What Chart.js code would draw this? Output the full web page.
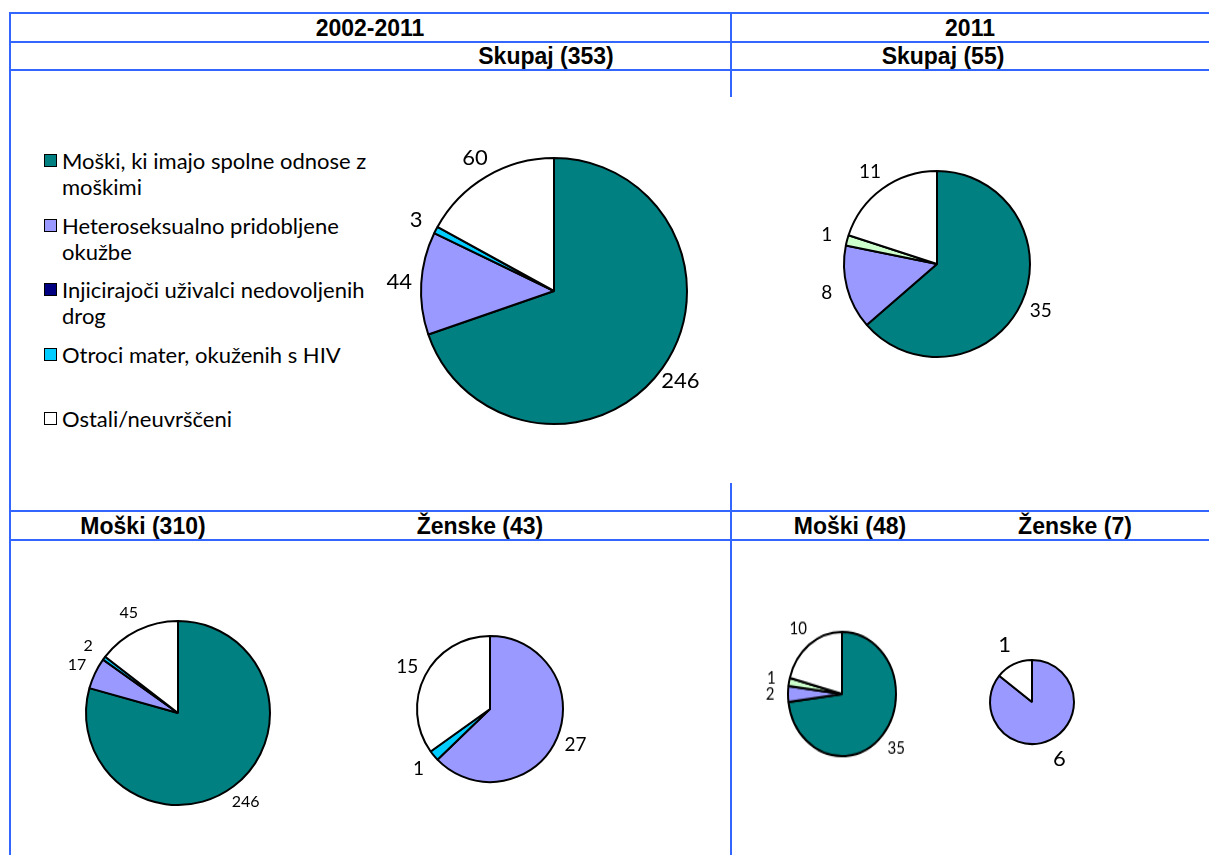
<!DOCTYPE html>
<html>
<head>
<meta charset="utf-8">
<script src="https://cdn.jsdelivr.net/npm/chart.js@4.4.1/dist/chart.umd.min.js"></script>
<style>
  body { margin: 0; background: #fff; width: 1209px; height: 855px; overflow: hidden; position: relative; }
  .hline { position: absolute; height: 2px; background: #3366ff; }
  .vline { position: absolute; width: 2px; background: #3366ff; }
  .head { position: absolute; font: bold 23px "Liberation Sans", Arial, sans-serif; color: #000;
          transform: translate(-50%, -50%); white-space: nowrap; }
  .pie { position: absolute; }
  #legend { position: absolute; left: 44px; top: 0; font: 22px Lato, sans-serif; color: #000; }
  .item { position: absolute; left: 0; width: 340px; }
  .box { position: absolute; left: 0; width: 11px; height: 11px; border: 1.5px solid #000; }
  .txt { position: absolute; left: 18px; line-height: 26px; white-space: nowrap; }
</style>
</head>
<body>

<div class="hline" style="left:10px; right:0; top:12px;"></div>
<div class="hline" style="left:10px; right:0; top:41px;"></div>
<div class="hline" style="left:10px; right:0; top:69px;"></div>
<div class="hline" style="left:10px; right:0; top:510px;"></div>
<div class="hline" style="left:10px; right:0; top:539px;"></div>
<div class="vline" style="left:9px; top:12px; bottom:0;"></div>
<div class="vline" style="left:730px; top:12px; height:85px;"></div>
<div class="vline" style="left:730px; top:483px; bottom:0;"></div>

<div class="head" style="left:370px; top:27.5px;">2002-2011</div>
<div class="head" style="left:970px; top:27.5px;">2011</div>
<div class="head" style="left:546px; top:56px;">Skupaj (353)</div>
<div class="head" style="left:943px; top:56px;">Skupaj (55)</div>
<div class="head" style="left:143px; top:525.5px;">Moški (310)</div>
<div class="head" style="left:480px; top:525.5px;">Ženske (43)</div>
<div class="head" style="left:850px; top:525.5px;">Moški (48)</div>
<div class="head" style="left:1075px; top:525.5px;">Ženske (7)</div>

<div id="legend"></div>

<canvas id="pieTotal" class="pie"></canvas>
<canvas id="pieTotal2011" class="pie"></canvas>
<canvas id="pieMen" class="pie"></canvas>
<canvas id="pieWomen" class="pie"></canvas>
<canvas id="pieMen2011" class="pie"></canvas>
<canvas id="pieWomen2011" class="pie"></canvas>

<script>
// categories (the light green one has no legend entry in the original)
const categories = [
  ["Moški, ki imajo spolne odnose z", "moškimi"],
  ["Heteroseksualno pridobljene", "okužbe"],
  ["Injicirajoči uživalci nedovoljenih", "drog"],
  ["Otroci mater, okuženih s HIV"],
  ["Drugo"],
  ["Ostali/neuvrščeni"]
];
const colors = ["#008080", "#9999ff", "#000080", "#00ccff", "#ccffcc", "#ffffff"];
const inLegend = [true, true, true, true, false, true];

// values per pie, same order as categories
const total0211 = [246, 44, 0, 3, 0, 60];
const total2011 = [35, 8, 0, 0, 1, 11];
const men0211 = [246, 17, 0, 2, 0, 45];
const women0211 = [0, 27, 0, 1, 0, 15];
const men2011 = [35, 2, 0, 0, 1, 10];
const women2011 = [0, 6, 0, 0, 0, 1];

// ---------- LEGEND ----------
const legend = document.getElementById("legend");
let slot = 0;
categories.forEach((lines, i) => {
  if (!inLegend[i]) return;
  const cy = 161 + slot * 64.5;
  const item = document.createElement("div");
  item.className = "item";
  item.style.top = (cy - 13) + "px";
  item.innerHTML =
    `<div class="box" style="top:6px; background:${colors[i]}"></div>` +
    `<div class="txt" style="top:0">${lines.join("<br>")}</div>`;
  legend.appendChild(item);
  slot++;
});

// ---------- VALUE LABELS ----------
const pieLabels = {
  id: "pieLabels",
  afterDatasetsDraw(chart, args, opts) {
    const { ctx } = chart;
    const values = chart.data.datasets[0].data;
    const meta = chart.getDatasetMeta(0);
    ctx.save();
    ctx.font = `${opts.size}px Lato, sans-serif`;
    ctx.fillStyle = "#000";
    ctx.textAlign = "center";
    ctx.textBaseline = "middle";
    meta.data.forEach((arc, i) => {
      if (!values[i]) return;
      const p = arc.getProps(["x", "y", "startAngle", "endAngle", "outerRadius"], true);
      const mid = (p.startAngle + p.endAngle) / 2;
      const d = p.outerRadius + opts.pad;
      ctx.fillText(String(values[i]), p.x + Math.cos(mid) * d, p.y + Math.sin(mid) * d);
    });
    ctx.restore();
  },
};

// ---------- PIES ----------
function makePie(id, values, cx, cy, r, size, pad, stretchY) {
  const canvas = document.getElementById(id);
  const side = 2 * (r + 70);
  canvas.width = side;
  canvas.height = side;
  canvas.style.left = (cx - side / 2) + "px";
  canvas.style.top = (cy - side / 2) + "px";
  if (stretchY) canvas.style.transform = `scaleY(${stretchY})`;

  return new Chart(canvas, {
    type: "pie",
    data: {
      labels: categories.map((c) => c.join(" ")),
      datasets: [
        {
          data: values,
          backgroundColor: colors,
          borderColor: "#000",
          borderWidth: 2,
        },
      ],
    },
    options: {
      responsive: false,
      devicePixelRatio: 1,
      animation: false,
      events: [],
      radius: r,
      plugins: {
        legend: { display: false },
        tooltip: { enabled: false },
        pieLabels: { size, pad },
      },
    },
    plugins: [pieLabels],
  });
}

makePie("pieTotal", total0211, 554, 291, 133, 22, 22);
makePie("pieTotal2011", total2011, 937, 264, 93, 19, 21);
makePie("pieMen", men0211, 178, 713, 92, 16, 20);
makePie("pieWomen", women0211, 490, 709, 73, 19, 20);
makePie("pieMen2011", men2011, 842, 694, 54, 15, 18, 1.15);
makePie("pieWomen2011", women2011, 1032, 702, 42, 22, 21);
</script>
</body>
</html>
